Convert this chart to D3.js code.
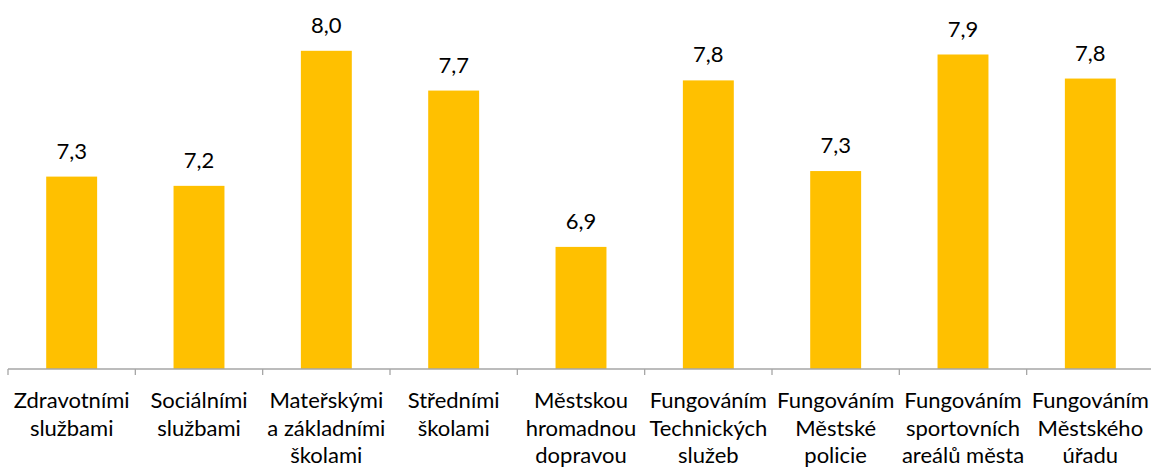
<!DOCTYPE html>
<html>
<head>
<meta charset="utf-8">
<script src="https://cdn.jsdelivr.net/npm/d3@7"></script>
<style>
  body { margin: 0; background: #fff; }
  #chart { width: 1151px; height: 468px; }
</style>
</head>
<body>
<div id="chart"></div>
<script>
// Category labels, already split into lines as in the source chart
const categories = [
  ['Zdravotními', 'službami'],
  ['Sociálními', 'službami'],
  ['Mateřskými', 'a základními', 'školami'],
  ['Středními', 'školami'],
  ['Městskou', 'hromadnou', 'dopravou'],
  ['Fungováním', 'Technických', 'služeb'],
  ['Fungováním', 'Městské', 'policie'],
  ['Fungováním', 'sportovních', 'areálů města'],
  ['Fungováním', 'Městského', 'úřadu']
];
const values = [7.28, 7.23, 7.96, 7.745, 6.90, 7.80, 7.31, 7.94, 7.81];
const yDomain = [6.24, 8.2];

const width = 1151;
const height = 468;
const font = 'Lato, "Open Sans", sans-serif';

const svg = d3.select('#chart')
  .append('svg')
  .attr('width', width)
  .attr('height', height);

const keys = categories.map((c, i) => i);

const x = d3.scaleBand()
  .domain(keys)
  .range([8, 1154])
  .paddingInner(0.6)
  .paddingOuter(0.3);

const y = d3.scaleLinear()
  .domain(yDomain)
  .range([369, 6.4]);

// Bars
svg.append('g')
  .selectAll('rect')
  .data(values)
  .join('rect')
  .attr('x', (d, i) => x(i))
  .attr('y', d => y(d))
  .attr('width', x.bandwidth())
  .attr('height', d => y(yDomain[0]) - y(d))
  .attr('fill', '#FFC000');

// Value labels
const fmt = d3.format('.1f');
svg.append('g')
  .selectAll('text')
  .data(values)
  .join('text')
  .attr('x', (d, i) => x(i) + x.bandwidth() / 2)
  .attr('y', d => y(d) - 18)
  .attr('text-anchor', 'middle')
  .attr('font-family', font)
  .attr('font-size', '22px')
  .attr('fill', '#000')
  .text(d => fmt(d).replace('.', ','));

// Category axis: line plus tick marks on band boundaries
const axisY = y(yDomain[0]);
const step = x.step();
const left = 8;
const axis = svg.append('g').attr('stroke', '#a6a6a6').attr('stroke-width', 1.3);
axis.append('line')
  .attr('x1', left).attr('x2', left + step * categories.length)
  .attr('y1', axisY).attr('y2', axisY);
axis.selectAll('line.tick')
  .data(d3.range(categories.length + 1))
  .join('line')
  .attr('class', 'tick')
  .attr('x1', i => left + i * step).attr('x2', i => left + i * step)
  .attr('y1', axisY).attr('y2', axisY + 6);

// Category labels
const labels = svg.append('g')
  .selectAll('text')
  .data(categories)
  .join('text')
  .attr('text-anchor', 'middle')
  .attr('font-family', font)
  .attr('font-size', '22px')
  .attr('fill', '#000');

labels.selectAll('tspan')
  .data((d, i) => d.map(line => ({ line, i })))
  .join('tspan')
  .attr('x', d => x(d.i) + x.bandwidth() / 2)
  .attr('y', (d, j) => 408 + j * 27.5)
  .text(d => d.line);
</script>
</body>
</html>
